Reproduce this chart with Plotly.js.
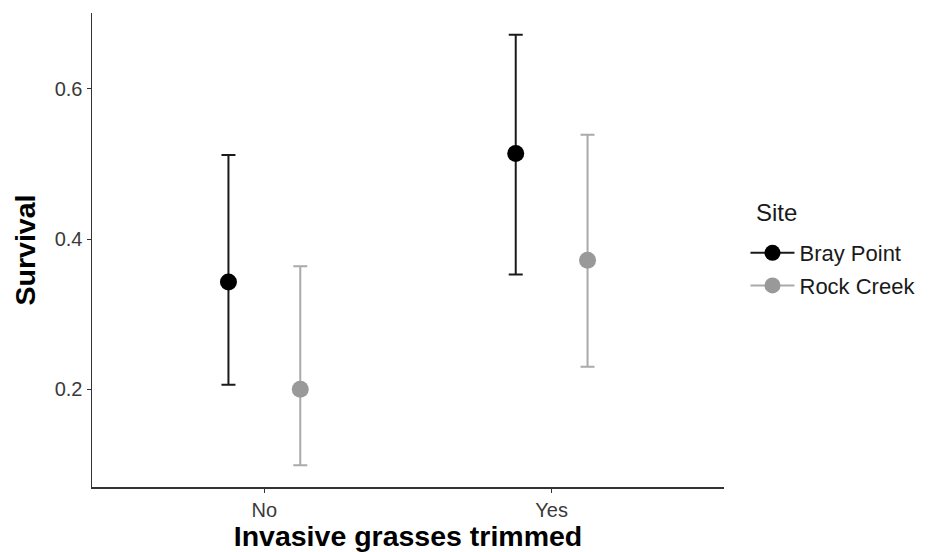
<!DOCTYPE html>
<html>
<head>
<meta charset="utf-8">
<script src="https://cdn.plot.ly/plotly-3.0.1.min.js"></script>
<style>html,body{margin:0;padding:0;background:#fff;}#chart{width:929px;height:552px;}</style>
</head>
<body>
<div id="chart"></div>
<script>
// Data
const categories = ["No", "Yes"];
const sites = ["Bray Point", "Rock Creek"];
const brayMean  = [0.343, 0.514];
const brayLower = [0.206, 0.353];
const brayUpper = [0.512, 0.672];
const rockMean  = [0.200, 0.372];
const rockLower = [0.099, 0.230];
const rockUpper = [0.364, 0.539];
const yTicks = [0.2, 0.4, 0.6];
const yTickText = ["0.2", "0.4", "0.6"];

const catPos = categories.map((c, i) => i + 1);
const dodge = 0.125;

function buildTrace(name, mean, lower, upper, offset, markerColor, barColor) {
  // insert a gap between categories so no connecting line is drawn
  const x = [], y = [], ep = [], em = [];
  mean.forEach((m, i) => {
    if (i > 0) { x.push(null); y.push(null); ep.push(null); em.push(null); }
    x.push(catPos[i] + offset);
    y.push(m);
    ep.push(upper[i] - m);
    em.push(m - lower[i]);
  });
  return {
    type: "scatter",
    mode: "lines+markers",
    name: name,
    x: x, y: y,
    connectgaps: false,
    line: {color: barColor, width: 2},
    marker: {color: markerColor, size: 17},
    error_y: {type: "data", symmetric: false, array: ep, arrayminus: em,
              color: barColor, thickness: 2, width: 7},
    legendgroup: name,
    hoverinfo: "skip"
  };
}

const traces = [
  buildTrace(sites[0], brayMean, brayLower, brayUpper, -dodge, "#000000", "#1a1a1a"),
  buildTrace(sites[1], rockMean, rockLower, rockUpper, dodge, "#999999", "#aaaaaa")
];

const fontFam = "Liberation Sans, Arial, Helvetica, sans-serif";

const layout = {
  width: 929, height: 552,
  margin: {l: 92, r: 205, t: 13, b: 65, autoexpand: false},
  paper_bgcolor: "#ffffff",
  plot_bgcolor: "#ffffff",
  font: {family: fontFam, color: "#333333"},
  showlegend: true,
  xaxis: {
    range: [0.4, 2.6],
    tickvals: catPos,
    ticktext: categories,
    showgrid: false, zeroline: false,
    showline: true, linecolor: "#333333", linewidth: 1.5,
    ticks: "outside", ticklen: 4, tickcolor: "#333333", tickwidth: 1.2,
    tickfont: {size: 20, color: "#3a3a3a"},
    title: {text: "Invasive grasses trimmed", font: {size: 28.5, color: "#000000", family: fontFam, weight: "bold"}, standoff: 0}
  },
  yaxis: {
    range: [0.070, 0.701],
    tickvals: yTicks,
    ticktext: yTickText,
    showgrid: false, zeroline: false,
    showline: true, linecolor: "#333333", linewidth: 1.5,
    ticks: "outside", ticklen: 4, tickcolor: "#333333", tickwidth: 1.2,
    tickfont: {size: 20, color: "#3a3a3a"},
    title: {text: "Survival", font: {size: 28.5, color: "#000000", family: fontFam, weight: "bold"}, standoff: 10}
  },
  annotations: [{
    text: "Site", xref: "paper", yref: "paper",
    x: 1.047, xanchor: "left", y: 0.58, yanchor: "middle",
    showarrow: false, font: {size: 24, color: "#1a1a1a", family: fontFam}
  }],
  legend: {
    x: 1.034, xanchor: "left",
    y: 0.538, yanchor: "top",
    font: {size: 22, color: "#1a1a1a"},
    traceorder: "grouped",
    tracegroupgap: 1,
    itemwidth: 44,
    bgcolor: "rgba(0,0,0,0)"
  }
};

Plotly.newPlot("chart", traces, layout, {displayModeBar: false, staticPlot: true});
</script>
</body>
</html>
